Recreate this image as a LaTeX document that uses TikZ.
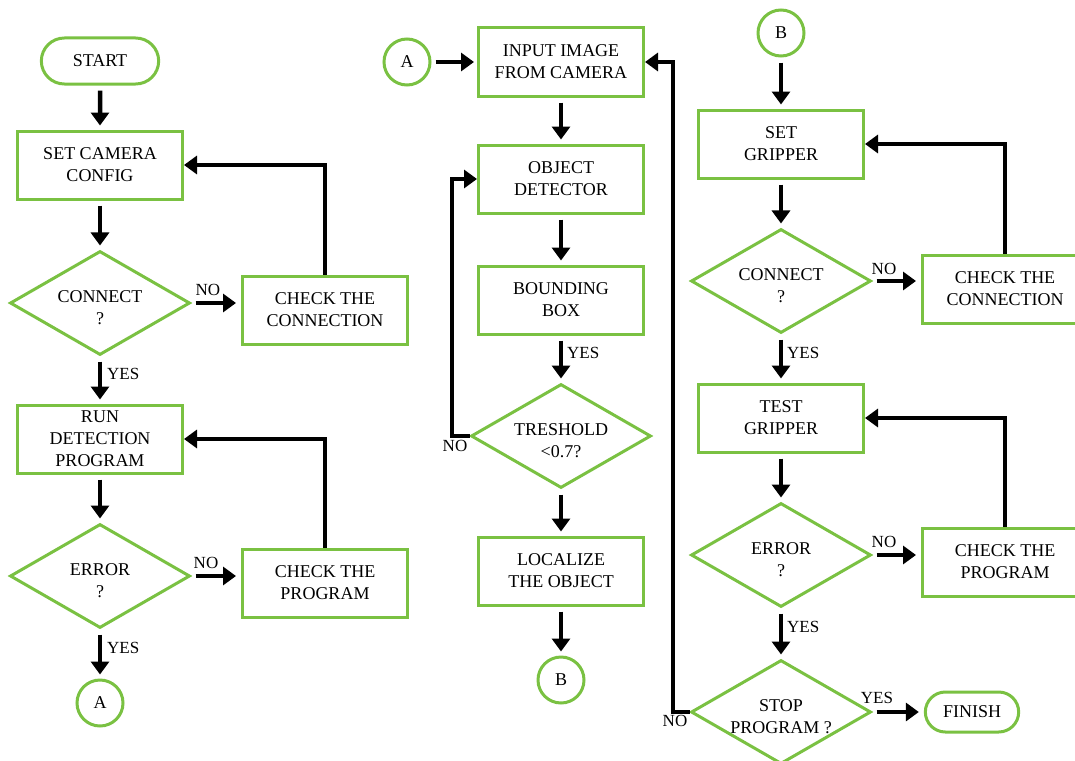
\documentclass[tikz,border=0pt]{standalone}
\usepackage{fontspec}
\setmainfont{Liberation Serif}
\usepackage{tikz}
\usetikzlibrary{arrows.meta,shapes.geometric,shapes.misc}

\definecolor{flowgreen}{RGB}{122,193,66}
\newcommand{\lowtext}[1]{\raisebox{-6pt}[\height][\depth]{\begin{tabular}{@{}c@{}}#1\end{tabular}}}

\tikzset{
	box/.style={draw=flowgreen, line width=3pt, minimum width=165pt, minimum height=68pt, align=center, inner sep=2pt},
	decide/.style={diamond, aspect=1.73, draw=flowgreen, line width=3pt, minimum width=180pt, minimum height=104pt, inner sep=0pt},
	term/.style={rounded rectangle, draw=flowgreen, line width=3pt, minimum height=44pt, align=center},
	conn/.style={circle, draw=flowgreen, line width=3pt, minimum size=46pt, inner sep=0pt},
	arr/.style={line width=4.5pt, -{Triangle[length=13pt,width=18pt]}},
	gap/.style={shorten <=5pt, shorten >=4pt},
	sidegap/.style={shorten <=4pt, shorten >=5pt},
	lbl/.style={font=\fontsize{17}{19}\selectfont, inner sep=1pt}
}

\begin{document}
\begin{tikzpicture}[x=1pt, y=-1pt, font=\fontsize{18}{22}\selectfont]
				\useasboundingbox (0,0) rectangle (1075,760);
				\clip (0,0) rectangle (1075,760);
				
				% left column
				\node [term, minimum width=124pt, minimum height=46pt] (start) at (100,61) {START};
				\node [box] (setcam) at (100,165) {SET CAMERA\\CONFIG};
				\node [decide] (conn1) at (100,303) {\lowtext{CONNECT\\?}};
				\node [box] (chkconn1) at (325,310) {CHECK THE\\CONNECTION};
				\node [box] (rundet) at (100,439) {RUN\\DETECTION\\PROGRAM};
				\node [decide] (err1) at (100,576) {\lowtext{ERROR\\?}};
				\node [box] (chkprog1) at (325,583) {CHECK THE\\PROGRAM};
				\node [conn] (a1) at (100,703) {A};
				
				\draw [arr, gap] (start) -- (setcam);
				\draw [arr, gap] (setcam) -- (conn1);
				\draw [arr, sidegap] (conn1.east) -- (conn1.east -| chkconn1.west);
				\draw [arr] (chkconn1.north) |- (setcam.east);
				\draw [arr, gap] (conn1.south) -- (rundet.north);
				\draw [arr, gap] (rundet) -- (err1);
				\draw [arr, sidegap] (err1.east) -- (err1.east -| chkprog1.west);
				\draw [arr] (chkprog1.north) |- (rundet.east);
				\draw [arr, gap] (err1.south) -- (a1.north);
				
				\node [lbl, above] at (208,297) {NO};
				\node [lbl, right] at (106,374) {YES};
				\node [lbl, above] at (206,570) {NO};
				\node [lbl, right] at (106,648) {YES};
				
				% middle column
				\node [conn] (a2) at (407,62) {A};
				\node [box] (input) at (561,62) {INPUT IMAGE\\FROM CAMERA};
				\node [box] (objdet) at (561,179) {OBJECT\\DETECTOR};
				\node [box] (bbox) at (561,300) {BOUNDING\\BOX};
				\node [decide] (thresh) at (561,436) {\lowtext{TRESHOLD\\<0.7?}};
				\node [box] (local) at (561,571) {LOCALIZE\\THE OBJECT};
				\node [conn] (b1) at (561,680) {B};
				
				\coordinate (noleft) at (452,436);
				\coordinate (noback) at (673,712);
				
				\draw [arr, shorten <=4pt, shorten >=3pt] (a2) -- (input);
				\draw [arr, gap] (input) -- (objdet);
				\draw [arr, gap] (objdet) -- (bbox);
				\draw [arr, gap] (bbox) -- (thresh.north);
				\draw [arr] (thresh.west) -- (noleft) |- (objdet.west);
				\draw [arr, gap] (thresh.south) -- (local);
				\draw [arr, gap] (local) -- (b1);
				
				\node [lbl, right] at (566,353) {YES};
				\node [lbl] at (455,446) {NO};
				
				% right column
				\node [conn] (b2) at (781,33) {B};
				\node [box] (setgrip) at (781,144) {SET\\GRIPPER};
				\node [decide] (conn2) at (781,281) {\lowtext{CONNECT\\?}};
				\node [box] (chkconn2) at (1005,289) {CHECK THE\\CONNECTION};
				\node [box] (testgrip) at (781,418) {TEST\\GRIPPER};
				\node [decide] (err2) at (781,555) {\lowtext{ERROR\\?}};
				\node [box] (chkprog2) at (1005,562) {CHECK THE\\PROGRAM};
				\node [decide] (stop) at (781,712) {\lowtext{STOP\\PROGRAM ?}};
				\node [term, minimum width=100pt, minimum height=40pt] (finish) at (972,712) {FINISH};
				
				\draw [arr, gap] (b2) -- (setgrip);
				\draw [arr, gap] (setgrip) -- (conn2);
				\draw [arr, sidegap] (conn2.east) -- (conn2.east -| chkconn2.west);
				\draw [arr] (chkconn2.north) |- (setgrip.east);
				\draw [arr, gap] (conn2.south) -- (testgrip.north);
				\draw [arr, gap] (testgrip) -- (err2);
				\draw [arr, sidegap] (err2.east) -- (err2.east -| chkprog2.west);
				\draw [arr] (chkprog2.north) |- (testgrip.east);
				\draw [arr, gap] (err2.south) -- (stop.north);
				\draw [arr, sidegap] (stop.east) -- (finish.west);
				\draw [arr] (stop.west) -- (noback) |- (input.east);
				
				\node [lbl, above] at (884,276) {NO};
				\node [lbl, right] at (786,353) {YES};
				\node [lbl, above] at (884,549) {NO};
				\node [lbl, right] at (786,627) {YES};
				\node [lbl, above] at (877,705) {YES};
				\node [lbl] at (675,721) {NO};
\end{tikzpicture}
\end{document}
